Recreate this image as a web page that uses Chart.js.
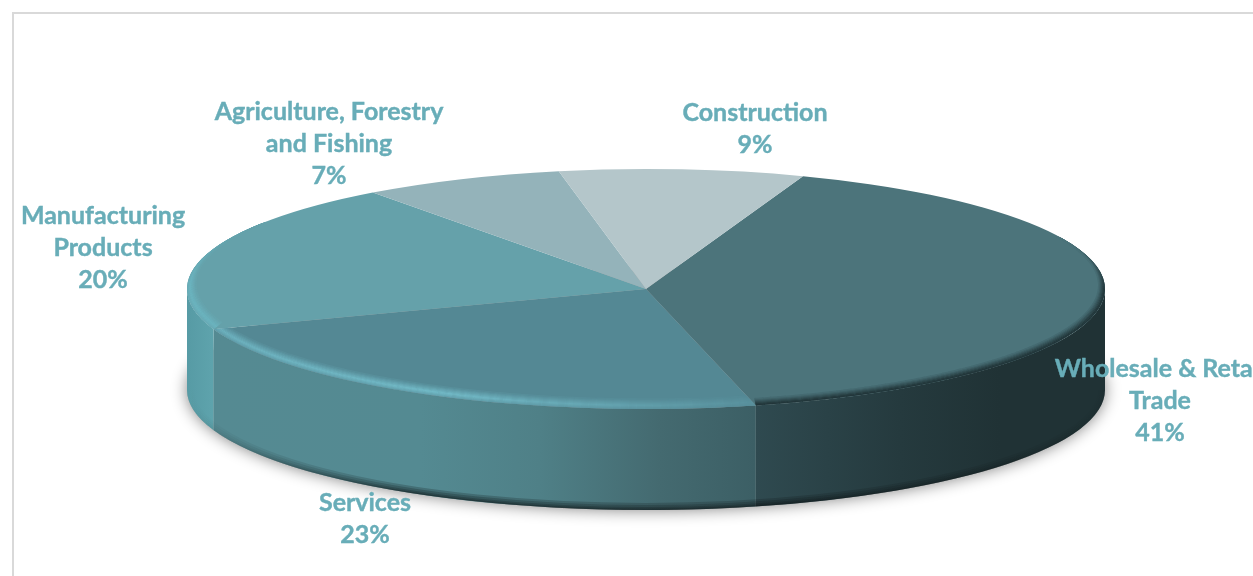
<!DOCTYPE html>
<html>
<head>
<meta charset="utf-8">
<title>Pie</title>
<script src="https://cdn.jsdelivr.net/npm/chart.js@4/dist/chart.umd.min.js"></script>
<style>
  html, body { margin: 0; background: #fff; overflow: hidden; }
  #moldura { position: absolute; left: 12px; top: 12px; right: 0; bottom: 0; border-left: 2px solid #d9d9d9; border-top: 2px solid #d9d9d9; }
  canvas { position: absolute; left: 0; top: 0; }
</style>
</head>
<body>
<div id="moldura"></div>
<canvas id="grafico" width="1253" height="576"></canvas>
<script>
const categorias = [
  ["Wholesale & Retail", "Trade"],
  ["Services"],
  ["Manufacturing", "Products"],
  ["Agriculture, Forestry", "and Fishing"],
  ["Construction"]
];
// estimated from the slice edges, they round to the printed labels
const valores = [40.6, 23.4, 20.3, 7.1, 8.6];

const coresTopo = ["#4c747b", "#548894", "#65a1aa", "#94b3ba", "#b4c6ca"];

// centre of each label block on the page
const posLabels = [[1160, 401], [365, 519], [103, 248], [329, 144], [755, 129]];

// the pie is squashed into this ellipse
const elipse = { cx: 646, cy: 289, rx: 459, ry: 120, altura: 101 };

// side wall colours, x on the page -> colour
const paredes = [
  [[755, "#2f4a50"], [900, "#253a3e"], [1000, "#203235"], [1106, "#203235"]],
  [[212, "#558a92"], [420, "#548a92"], [540, "#4f8087"], [660, "#446a70"], [755, "#3c5f65"]],
  [[188, "#579ba5"], [212, "#5ea3ac"]]
];

// bevel around the top face: peak colour and strength along the angle (degrees)
const bordas = [
  { pico: "#22363a", largura: 8, escura: true, fases: [[-25, 0], [0, 1], [80, 1]] },
  { pico: "#74bdca", largura: 11, escura: false, fases: [[77, 0.2], [115, 0.95], [165, 0.75]] },
  { pico: "#6cb6c2", largura: 11, escura: false, fases: [[158, 0.9], [182, 0.9], [212, 0]] }
];

function misturar(c1, c2, t) {
  let a = parseInt(c1.slice(1), 16);
  let b = parseInt(c2.slice(1), 16);
  let r = (a >> 16) + ((b >> 16) - (a >> 16)) * t;
  let g = ((a >> 8) & 255) + (((b >> 8) & 255) - ((a >> 8) & 255)) * t;
  let bl = (a & 255) + ((b & 255) - (a & 255)) * t;
  return `rgb(${Math.round(r)},${Math.round(g)},${Math.round(bl)})`;
}

function forca(fases, graus) {
  if (graus <= fases[0][0]) return fases[0][1];
  for (let i = 1; i < fases.length; i++) {
    if (graus <= fases[i][0]) {
      let t = (graus - fases[i - 1][0]) / (fases[i][0] - fases[i - 1][0]);
      return fases[i - 1][1] + (fases[i][1] - fases[i - 1][1]) * t;
    }
  }
  return fases[fases.length - 1][1];
}

function caminhoParede(ctx, ini, fim) {
  ctx.beginPath();
  ctx.ellipse(elipse.cx, elipse.cy, elipse.rx, elipse.ry, 0, ini, fim);
  ctx.ellipse(elipse.cx, elipse.cy + elipse.altura, elipse.rx, elipse.ry, 0, fim, ini, true);
  ctx.closePath();
}

function desenharSombra(ctx) {
  ctx.save();
  ctx.shadowColor = "#808080";
  ctx.shadowBlur = 16;
  ctx.fillStyle = "#a8a8a8";
  ctx.beginPath();
  ctx.ellipse(elipse.cx, elipse.cy + elipse.altura, elipse.rx, elipse.ry, 0, 0, Math.PI * 2);
  ctx.fill();
  ctx.restore();
}

function desenharParedes(ctx, arcos) {
  for (let i = 0; i < paredes.length; i++) {
    let ini = Math.max(arcos[i].startAngle, 0);
    let fim = Math.min(arcos[i].endAngle, Math.PI);
    let stops = paredes[i];
    let grad = ctx.createLinearGradient(stops[0][0], 0, stops[stops.length - 1][0], 0);
    let largura = stops[stops.length - 1][0] - stops[0][0];
    for (let s of stops) grad.addColorStop((s[0] - stops[0][0]) / largura, s[1]);
    caminhoParede(ctx, ini, fim);
    ctx.fillStyle = grad;
    ctx.fill();
  }

  // dark edge at the foot of the wall
  ctx.save();
  caminhoParede(ctx, 0, Math.PI);
  ctx.clip();
  let fade = ctx.createLinearGradient(188, 0, 1106, 0);
  fade.addColorStop(0, "rgba(0,0,0,0)");
  fade.addColorStop(0.25, "rgba(0,0,0,0.2)");
  fade.addColorStop(0.62, "rgba(0,0,0,0.16)");
  fade.addColorStop(1, "rgba(0,0,0,0.02)");
  ctx.strokeStyle = fade;
  for (let w of [3, 6, 10, 14]) {
    ctx.lineWidth = w;
    ctx.beginPath();
    ctx.ellipse(elipse.cx, elipse.cy + elipse.altura, elipse.rx, elipse.ry, 0, 0, Math.PI);
    ctx.stroke();
  }
  ctx.restore();
}

function desenharBordas(ctx, arcos) {
  const passo = Math.PI / 180;
  for (let i = 0; i < bordas.length; i++) {
    let b = bordas[i];
    let ini = arcos[i].startAngle;
    let fim = arcos[i].endAngle;
    ctx.save();
    // keep the bevel inside its own slice
    ctx.beginPath();
    ctx.moveTo(elipse.cx, elipse.cy);
    ctx.ellipse(elipse.cx, elipse.cy, elipse.rx, elipse.ry, 0, ini, fim);
    ctx.closePath();
    ctx.clip();
    ctx.lineWidth = 1.4;
    for (let k = 0; k < b.largura; k++) {
      let t = k / b.largura;
      let perfil = b.escura ? (t < 0.2 ? 1 : (1 - t) / 0.8) : (t < 0.35 ? 0.45 + t * 1.57 : (1 - t) / 0.65);
      let d = k;
      for (let a = ini; a < fim; a += passo) {
        let s = forca(b.fases, a * 180 / Math.PI);
        if (s <= 0) continue;
        ctx.strokeStyle = misturar(coresTopo[i], b.pico, s * perfil);
        ctx.beginPath();
        ctx.ellipse(elipse.cx, elipse.cy - d * 0.5, elipse.rx - d * 0.9, elipse.ry - d * 0.5, 0, a, Math.min(a + passo * 1.1, fim));
        ctx.stroke();
      }
    }
    ctx.restore();
  }
}

const pizza3d = {
  id: "pizza3d",
  beforeDatasetsDraw(chart) {
    const ctx = chart.ctx;
    const arcos = chart.getDatasetMeta(0).data;
    desenharSombra(ctx);
    desenharParedes(ctx, arcos);
    // squash the round pie that Chart.js draws
    const a = arcos[0];
    ctx.save();
    ctx.translate(elipse.cx, elipse.cy);
    ctx.scale(elipse.rx / a.outerRadius, elipse.ry / a.outerRadius);
    ctx.translate(-a.x, -a.y);
  },
  afterDatasetsDraw(chart) {
    const ctx = chart.ctx;
    ctx.restore();
    desenharBordas(ctx, chart.getDatasetMeta(0).data);
  },
  afterDraw(chart) {
    const ctx = chart.ctx;
    ctx.save();
    ctx.font = "bold 25px Lato, 'Open Sans', sans-serif";
    ctx.fillStyle = "#68adb8";
    ctx.strokeStyle = "#68adb8";
    ctx.lineWidth = 0.4;
    ctx.textAlign = "center";
    ctx.textBaseline = "middle";
    for (let i = 0; i < categorias.length; i++) {
      let linhas = categorias[i].concat(`${Math.round(valores[i])}%`);
      let y = posLabels[i][1] - (linhas.length - 1) * 16;
      for (let l = 0; l < linhas.length; l++) {
        ctx.fillText(linhas[l], posLabels[i][0], y + l * 32);
        ctx.strokeText(linhas[l], posLabels[i][0], y + l * 32);
      }
    }
    ctx.restore();
  }
};

new Chart(document.getElementById("grafico"), {
  type: "pie",
  data: {
    labels: categorias.map(function (c) { return c.join(" "); }),
    datasets: [{
      data: valores,
      backgroundColor: coresTopo,
      borderWidth: 0
    }]
  },
  options: {
    responsive: false,
    animation: false,
    rotation: 20,
    layout: { padding: { left: 39 } },
    plugins: {
      legend: { display: false },
      tooltip: { enabled: false }
    }
  },
  plugins: [pizza3d]
});
</script>
</body>
</html>
